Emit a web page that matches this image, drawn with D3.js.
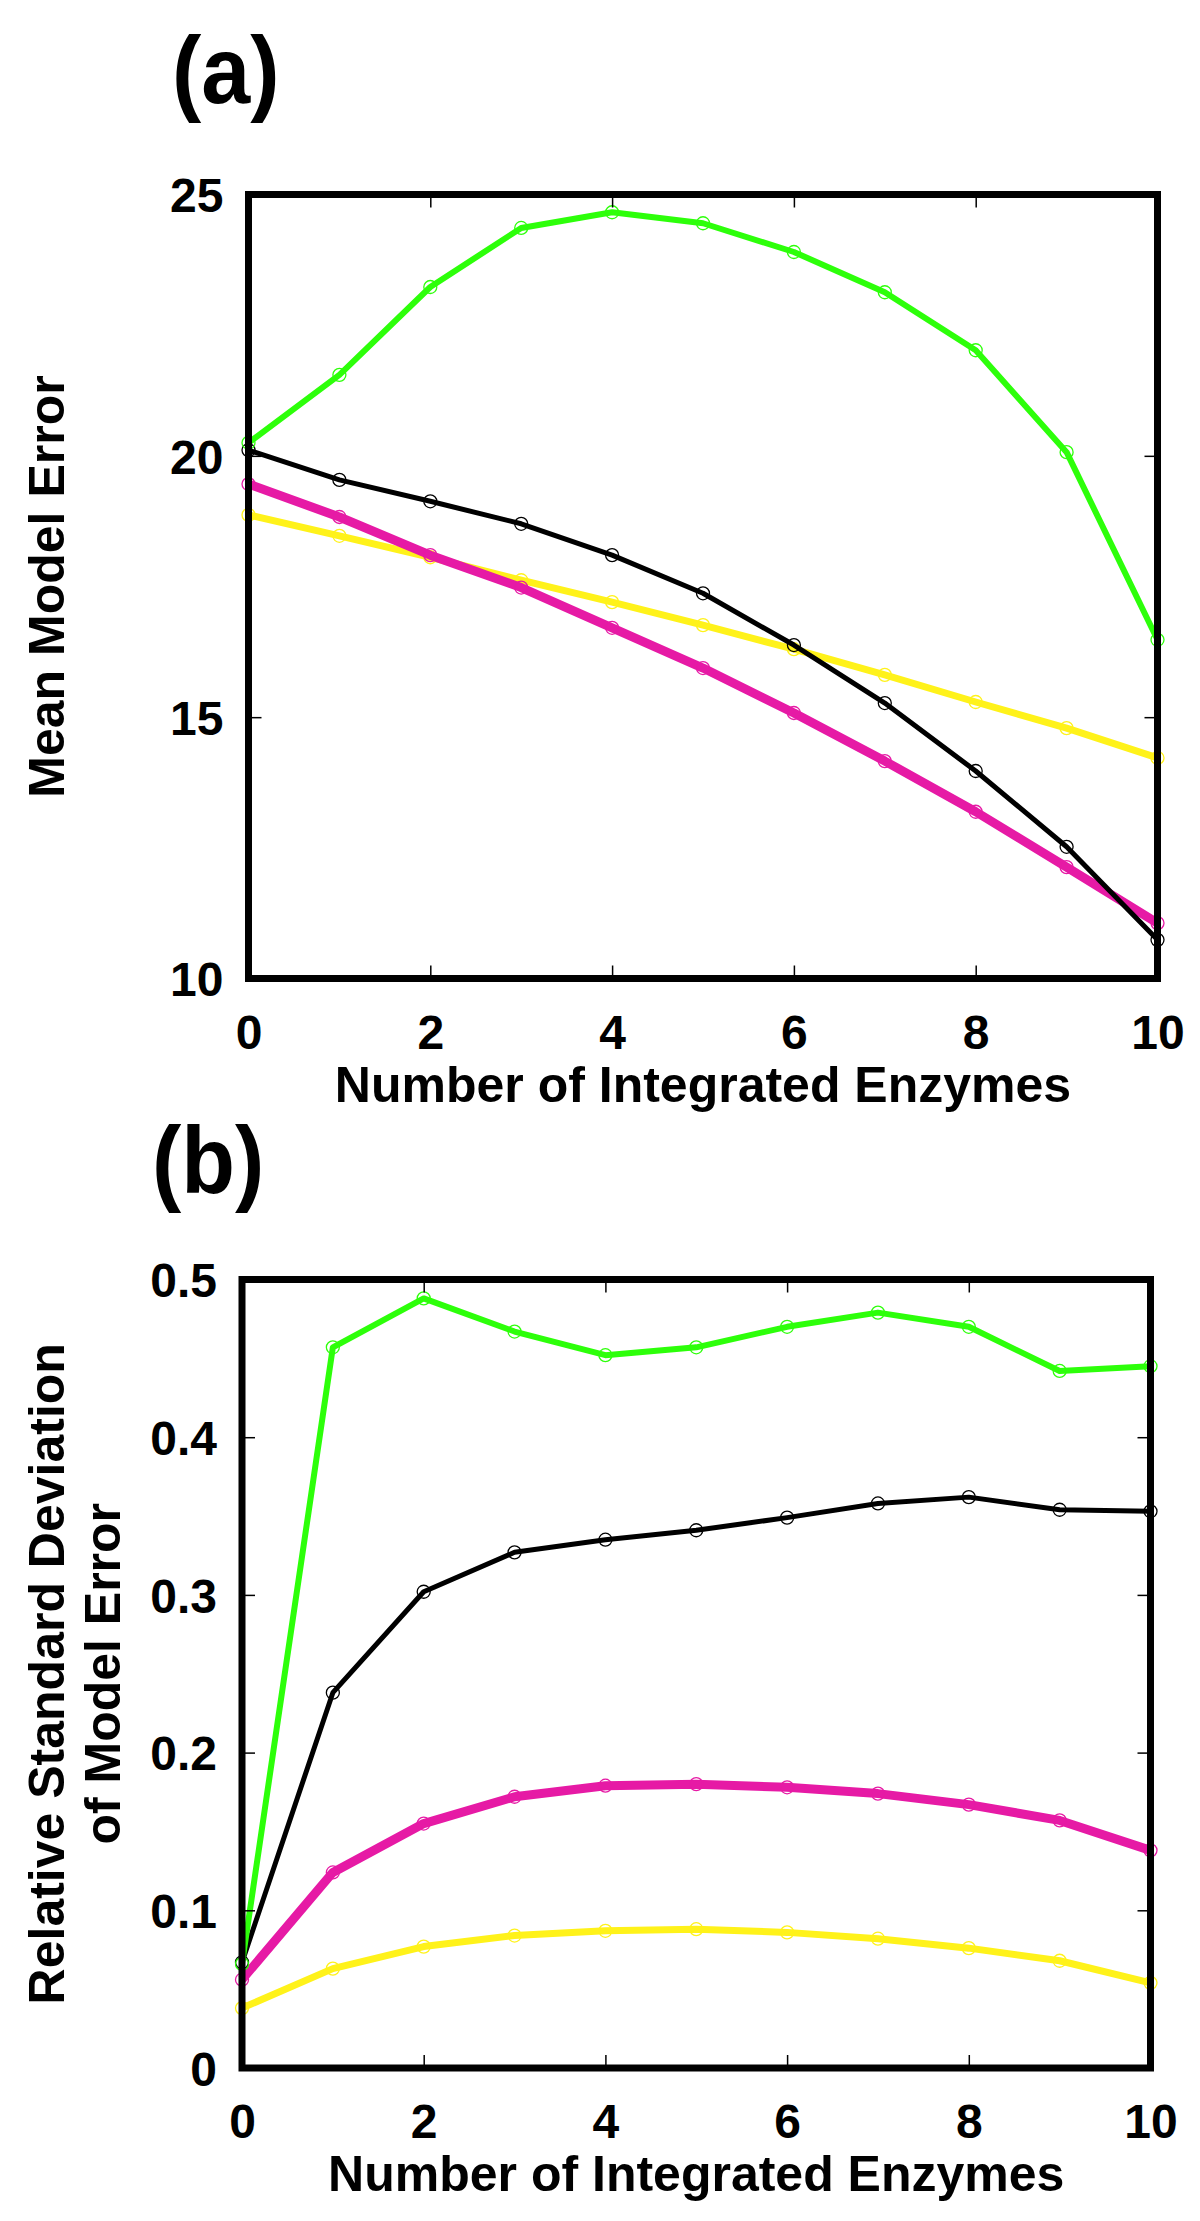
<!DOCTYPE html>
<html>
<head>
<meta charset="utf-8">
<script src="https://cdn.jsdelivr.net/npm/d3@7"></script>
<style>
  body { margin: 0; background: #fff; }
  svg { display: block; font-family: "Liberation Sans", Arial, sans-serif; font-weight: bold; }
</style>
</head>
<body>
<div id="chart"></div>
<script>
// x values: number of integrated enzymes
const enzymes = [0, 1, 2, 3, 4, 5, 6, 7, 8, 9, 10];
const xTicks = [0, 2, 4, 6, 8, 10];

// (a) mean model error
const meanGreen   = [20.25, 21.55, 23.23, 24.36, 24.66, 24.45, 23.90, 23.13, 22.02, 20.07, 16.48];
const meanBlack   = [20.11, 19.54, 19.13, 18.70, 18.10, 17.37, 16.38, 15.27, 13.97, 12.52, 10.74];
const meanMagenta = [19.46, 18.83, 18.10, 17.48, 16.71, 15.94, 15.08, 14.16, 13.19, 12.13, 11.06];
const meanYellow  = [18.87, 18.47, 18.06, 17.62, 17.20, 16.76, 16.30, 15.81, 15.29, 14.79, 14.22];
const meanTicks = [10, 15, 20, 25];

// (b) relative standard deviation of model error
const rsdGreen   = [0.066, 0.457, 0.488, 0.467, 0.452, 0.457, 0.470, 0.479, 0.470, 0.442, 0.445];
const rsdBlack   = [0.067, 0.238, 0.302, 0.327, 0.335, 0.341, 0.349, 0.358, 0.362, 0.354, 0.353];
const rsdMagenta = [0.056, 0.124, 0.155, 0.172, 0.179, 0.180, 0.178, 0.174, 0.167, 0.157, 0.138];
const rsdYellow  = [0.038, 0.063, 0.077, 0.084, 0.087, 0.088, 0.086, 0.082, 0.076, 0.068, 0.054];
const rsdTicks = [0, 0.1, 0.2, 0.3, 0.4, 0.5];

const colors = { green: "#2dff0a", black: "#000000", magenta: "#e61aa5", yellow: "#fff21a" };
const widths = { green: 6, black: 5, magenta: 9, yellow: 7 };

const svg = d3.select("#chart").append("svg")
    .attr("width", 1200)
    .attr("height", 2221);

function drawPanel(cfg) {
    const x = d3.scaleLinear().domain([0, 10]).range([cfg.left, cfg.right]);
    const y = d3.scaleLinear().domain(cfg.domain).range([cfg.bottom, cfg.top]);
    const g = svg.append("g");

    // series: yellow, magenta, black, green (last on top)
    const series = [
        ["yellow", cfg.data.yellow],
        ["magenta", cfg.data.magenta],
        ["black", cfg.data.black],
        ["green", cfg.data.green]
    ];
    const line = d3.line().x((d, i) => x(enzymes[i])).y(d => y(d));
    series.forEach(([name, vals]) => {
        g.append("path")
            .datum(vals)
            .attr("d", line)
            .attr("fill", "none")
            .attr("stroke", colors[name])
            .attr("stroke-width", widths[name])
            .attr("stroke-linejoin", "round");
        g.selectAll(null)
            .data(vals)
            .enter().append("circle")
            .attr("cx", (d, i) => x(enzymes[i]))
            .attr("cy", d => y(d))
            .attr("r", 6.5)
            .attr("fill", "none")
            .attr("stroke", colors[name])
            .attr("stroke-width", 1.3);
    });

    // inward ticks on all four sides
    const bottom = g.append("g")
        .attr("transform", `translate(0,${cfg.bottom})`)
        .call(d3.axisBottom(x).tickValues(xTicks).tickSizeInner(-13).tickSizeOuter(0).tickPadding(36).tickFormat(d3.format("d")));
    const top = g.append("g")
        .attr("transform", `translate(0,${cfg.top})`)
        .call(d3.axisTop(x).tickValues(xTicks).tickSizeInner(-13).tickSizeOuter(0).tickFormat(""));
    const left = g.append("g")
        .attr("transform", `translate(${cfg.left},0)`)
        .call(d3.axisLeft(y).tickValues(cfg.ticks).tickSizeInner(-13).tickSizeOuter(0).tickPadding(cfg.labelPad).tickFormat(cfg.format));
    const right = g.append("g")
        .attr("transform", `translate(${cfg.right},0)`)
        .call(d3.axisRight(y).tickValues(cfg.ticks).tickSizeInner(-13).tickSizeOuter(0).tickFormat(""));

    [bottom, top, left, right].forEach(a => {
        a.select(".domain").remove();
        a.selectAll(".tick line").attr("stroke", "#000").attr("stroke-width", 1.5);
        a.selectAll("text")
            .attr("fill", "#000")
            .style("font-size", "48px")
            .style("font-weight", "bold")
            .style("font-family", '"Liberation Sans", Arial, sans-serif');
    });
    left.selectAll("text").attr("dy", "0.36em");

    // frame
    g.append("rect")
        .attr("x", cfg.left)
        .attr("y", cfg.top)
        .attr("width", cfg.right - cfg.left)
        .attr("height", cfg.bottom - cfg.top)
        .attr("fill", "none")
        .attr("stroke", "#000")
        .attr("stroke-width", 7);

    // panel letter
    g.append("text")
        .attr("transform", `translate(${cfg.letterX},${cfg.letterY}) scale(1,1.07)`)
        .style("font-size", "88px")
        .text(cfg.letter);

    // x title
    g.append("text")
        .attr("x", (cfg.left + cfg.right) / 2)
        .attr("y", cfg.bottom + 123)
        .attr("text-anchor", "middle")
        .style("font-size", "50px")
        .text("Number of Integrated Enzymes");

    // y title (one or two lines)
    const midY = (cfg.top + cfg.bottom) / 2;
    cfg.yTitle.forEach((t, i) => {
        g.append("text")
            .attr("transform", `translate(${cfg.yTitleX[i]},${midY}) rotate(-90)`)
            .attr("text-anchor", "middle")
            .style("font-size", "50px")
            .text(t);
    });
}

drawPanel({
    left: 248.5, right: 1157.5, top: 194.5, bottom: 978.5,
    domain: [10, 25], ticks: meanTicks, labelPad: 25,
    format: d3.format("d"),
    data: { green: meanGreen, black: meanBlack, magenta: meanMagenta, yellow: meanYellow },
    letter: "(a)", letterX: 172, letterY: 103,
    yTitle: ["Mean Model Error"], yTitleX: [64]
});

drawPanel({
    left: 242, right: 1150.5, top: 1279.5, bottom: 2068,
    domain: [0, 0.5], ticks: rsdTicks, labelPad: 25,
    format: d => d === 0 ? "0" : d3.format(".1f")(d),
    data: { green: rsdGreen, black: rsdBlack, magenta: rsdMagenta, yellow: rsdYellow },
    letter: "(b)", letterX: 152, letterY: 1193,
    yTitle: ["Relative Standard Deviation", "of Model Error"], yTitleX: [64, 120]
});
</script>
</body>
</html>
